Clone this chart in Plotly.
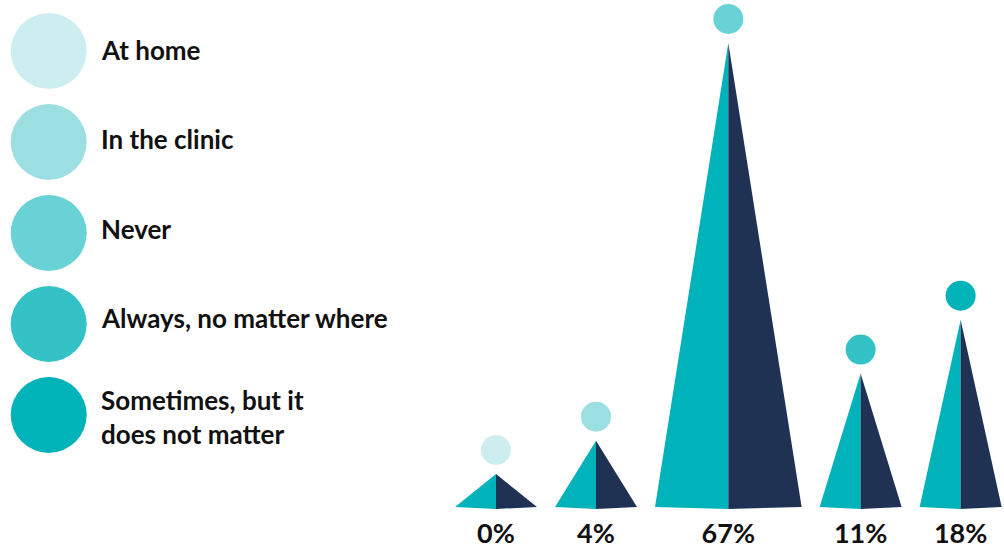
import plotly.graph_objects as go

# --- data -------------------------------------------------------------
categories = [
    "At home",
    "In the clinic",
    "Never",
    "Always, no matter where",
    "Sometimes, but it<br>does not matter",
]
shares = [0, 4, 67, 11, 18]
share_labels = ["0%", "4%", "67%", "11%", "18%"]
dot_colors = ["#CDEEF0", "#9CDFE3", "#69D2D6", "#35C2C7", "#00B3B9"]

# --- style ------------------------------------------------------------
TEAL = "#00B2B9"
NAVY = "#1F3254"
FONT = "Lato"
W, H = 1004, 549
PX_PER_UNIT = 25.5      # pixels per display unit on the value axis
BASE_ROW = 507          # pixel row of the pyramid baseline
EXP = 0.69              # compressing exponent of the display scale
MIN_H = 33 / PX_PER_UNIT
MIN_W = 82              # narrowest pyramid base, px
SLOPE_W = 0.316         # base width relative to height for tall pyramids
GAP = 18                # horizontal gap between pyramids, px
FIRST_X = 496           # centre of the first pyramid, px
DIP = 2 / PX_PER_UNIT   # front edge of the base sits a little lower
DOT_GAP = 24 / PX_PER_UNIT


def display_height(v):
    return max(MIN_H, v ** EXP)


heights = [display_height(v) for v in shares]
widths = [max(MIN_W, SLOPE_W * h * PX_PER_UNIT) for h in heights]
centers = []
for i, w in enumerate(widths):
    if i == 0:
        centers.append(FIRST_X)
    else:
        centers.append(centers[-1] + widths[i - 1] / 2 + GAP + w / 2)

fig = go.Figure()

for c, h, w in zip(centers, heights, widths):
    left, right = c - w / 2, c + w / 2
    fig.add_trace(go.Scatter(
        x=[left, c, c, left], y=[0, -DIP, h, 0],
        mode="lines", fill="toself", fillcolor=TEAL,
        line=dict(width=0), hoverinfo="skip", showlegend=False))
    fig.add_trace(go.Scatter(
        x=[c, right, c, c], y=[-DIP, 0, h, -DIP],
        mode="lines", fill="toself", fillcolor=NAVY,
        line=dict(width=0), hoverinfo="skip", showlegend=False))

# dots above the peaks
fig.add_trace(go.Scatter(
    x=centers, y=[h + DOT_GAP for h in heights], mode="markers",
    marker=dict(size=30, color=dot_colors, line=dict(width=0)),
    hoverinfo="skip", showlegend=False))

# percentage labels under the pyramids
fig.add_trace(go.Scatter(
    x=centers, y=[-29 / PX_PER_UNIT] * len(centers), mode="text",
    text=share_labels, textposition="middle center",
    textfont=dict(family=FONT, size=27, color="#111111", weight=700),
    hoverinfo="skip", showlegend=False))

# key on the left, drawn on a pixel-based overlay axis pair
key_dot_rows = [51, 142, 233, 324, 415]
key_text_rows = [50, 139, 229, 318, 417]
fig.add_trace(go.Scatter(
    x=[48.7] * len(categories), y=key_dot_rows, xaxis="x2", yaxis="y2",
    mode="markers",
    marker=dict(size=76, color=dot_colors, line=dict(width=0)),
    hoverinfo="skip", showlegend=False))
for name, row in zip(categories, key_text_rows):
    fig.add_annotation(
        x=99, y=row, xref="x2", yref="y2", text=name, showarrow=False,
        xanchor="left", yanchor="middle", align="left",
        font=dict(family=FONT, size=26, color="#111111", weight=700))

fig.update_layout(
    width=W, height=H,
    margin=dict(l=0, r=0, t=0, b=0),
    paper_bgcolor="white", plot_bgcolor="white",
    xaxis=dict(range=[0, W], visible=False, fixedrange=True),
    yaxis=dict(range=[-(H - BASE_ROW) / PX_PER_UNIT, BASE_ROW / PX_PER_UNIT],
               visible=False, fixedrange=True),
    xaxis2=dict(range=[0, W], visible=False, overlaying="x"),
    yaxis2=dict(range=[H, 0], visible=False, overlaying="y"),
)

fig.write_html("out.html")
